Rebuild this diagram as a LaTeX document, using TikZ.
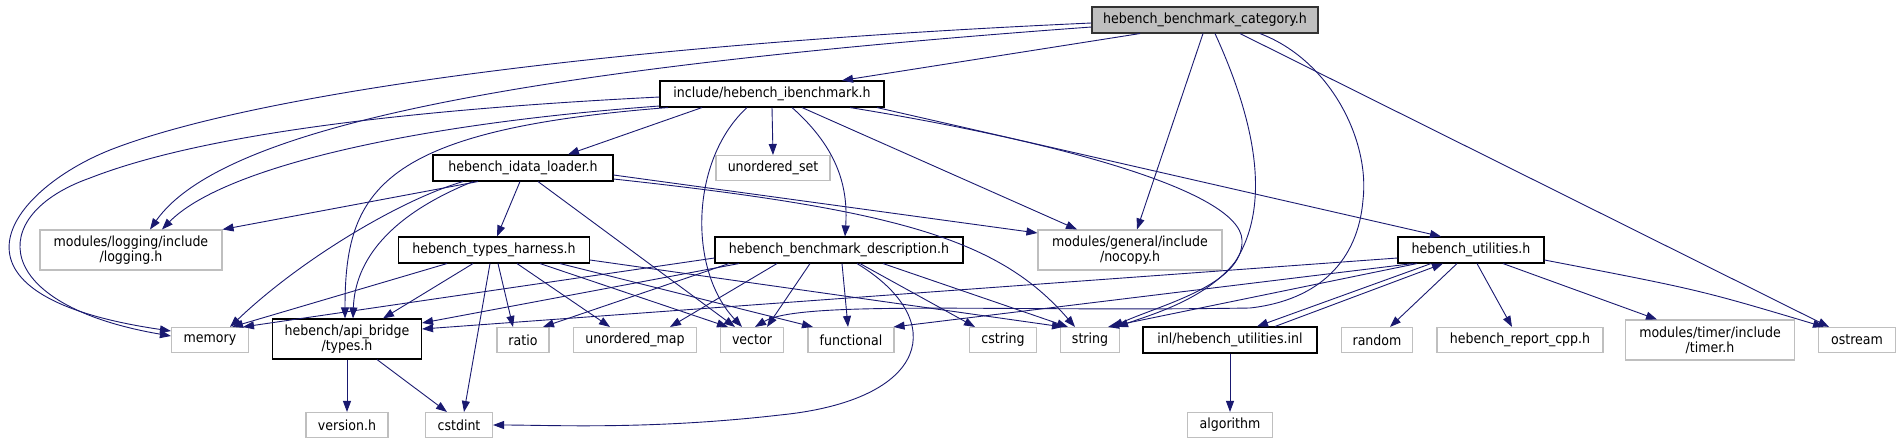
\documentclass[tikz,border=0pt]{standalone}
\usepackage{fontspec}
\setmainfont{DejaVu Sans Condensed}
\usetikzlibrary{arrows.meta}
\definecolor{navy}{HTML}{191970}
\definecolor{grey75}{HTML}{BFBFBF}

\begin{document}
\begin{tikzpicture}[x=1pt,y=-1pt,font=\fontsize{14}{15}\selectfont,
file/.style={draw=black,line width=1.1pt,fill=white,inner sep=0pt,minimum height=26pt,align=center},
sys/.style={file,draw=grey75},
two/.style={minimum height=40pt},
root/.style={file,fill=grey75,draw=black!80},
dep/.style={-{Triangle[length=11pt,width=8pt]},navy,line width=0.9pt}]
\useasboundingbox (0,0) rectangle (1900,440);
\node[root,minimum width=226pt] (cat) at (1205,20) {hebench\_benchmark\_category.h};
\node[file,minimum width=224pt] (ibm) at (772,94) {include/hebench\_ibenchmark.h};
\node[sys,minimum width=114pt,minimum height=25pt] (uset) at (773,168) {unordered\_set};
\node[file,minimum width=180pt] (idl) at (523,168) {hebench\_idata\_loader.h};
\node[sys,two,minimum width=182pt] (logging) at (131,250) {modules/logging/include\\/logging.h};
\node[file,minimum width=191pt] (harness) at (494,250) {hebench\_types\_harness.h};
\node[file,minimum width=248pt] (desc) at (839,250) {hebench\_benchmark\_description.h};
\node[sys,two,minimum width=184pt] (nocopy) at (1130,250) {modules/general/include\\/nocopy.h};
\node[file,minimum width=146pt] (util) at (1471,250) {hebench\_utilities.h};
\node[sys,minimum width=77pt,minimum height=25pt] (memory) at (210,340) {memory};
\node[file,two,minimum width=149pt] (api) at (347,339) {hebench/api\_bridge\\/types.h};
\node[sys,minimum width=52pt,minimum height=25pt] (ratio) at (523,340) {ratio};
\node[sys,minimum width=123pt,minimum height=25pt] (umap) at (635,340) {unordered\_map};
\node[sys,minimum width=63pt,minimum height=25pt] (vector) at (752,340) {vector};
\node[sys,minimum width=86pt,minimum height=25pt] (functional) at (851,340) {functional};
\node[sys,minimum width=67pt,minimum height=25pt] (cstring) at (1003,340) {cstring};
\node[sys,minimum width=59pt,minimum height=25pt] (string) at (1090,340) {string};
\node[file,minimum width=174pt] (inl) at (1230,340) {inl/hebench\_utilities.inl};
\node[sys,minimum width=71pt,minimum height=25pt] (random) at (1377,340) {random};
\node[sys,minimum width=166pt,minimum height=25pt] (report) at (1520,340) {hebench\_report\_cpp.h};
\node[sys,two,minimum width=169pt] (timer) at (1710,340) {modules/timer/include\\/timer.h};
\node[sys,minimum width=77pt,minimum height=25pt] (ostream) at (1857,340) {ostream};
\node[sys,minimum width=82pt,minimum height=25pt] (version) at (347,425) {version.h};
\node[sys,minimum width=67pt,minimum height=25pt] (cstdint) at (459,425) {cstdint};
\node[sys,minimum width=85pt,minimum height=25pt] (algorithm) at (1230,425) {algorithm};

\draw[dep] ([xshift=-65pt]cat.south) -- ([xshift=70pt]ibm.north);
\draw[dep] ([yshift=-3pt]cat.west) .. controls (600,45) and (250,95) .. (110,150) .. controls (10,190) and (-75,295) .. ([yshift=9pt]memory.west);
\draw[dep] ([yshift=-7pt]cat.west) .. controls (500,70) and (220,130) .. ([xshift=19pt]logging.north);
\draw[dep] ([xshift=-2pt]cat.south) -- ([xshift=7pt]nocopy.north);
\draw[dep] ([xshift=10pt]cat.south) .. controls (1250,110) and (1275,200) .. (1235,262) .. controls (1205,300) and (1150,315) .. ([xshift=27pt]string.north);
\draw[dep] ([xshift=55pt]cat.south) .. controls (1330,60) and (1370,140) .. (1363,200) .. controls (1358,260) and (1320,300) .. (1250,308) .. controls (1000,312) and (800,300) .. ([xshift=3pt]vector.north);
\draw[dep] ([xshift=35pt]cat.south) -- ([xshift=-28pt]ostream.north);

\draw[dep] ([yshift=-3pt]ibm.west) .. controls (400,110) and (200,135) .. (90,178) .. controls (-15,215) and (-10,305) .. ([yshift=4pt]memory.west);
\draw[dep] ([yshift=-12pt]ibm.west) .. controls (400,125) and (220,170) .. ([xshift=31pt]logging.north);
\draw[dep] ([xshift=-70pt]ibm.south) -- ([xshift=45pt]idl.north);
\draw[dep] ([xshift=-104pt]ibm.south) .. controls (380,130) and (345,190) .. ([xshift=-2pt]api.north);
\draw[dep] (ibm.south) -- (uset.north);
\draw[dep] ([xshift=-25pt]ibm.south) .. controls (690,160) and (688,270) .. ([xshift=-10pt]vector.north);
\draw[dep] ([xshift=20pt]ibm.south) .. controls (840,150) and (848,190) .. ([xshift=6pt]desc.north);
\draw[dep] ([xshift=30pt]ibm.south) -- ([xshift=-53pt]nocopy.north);
\draw[dep] ([xshift=78pt]ibm.south) .. controls (1050,140) and (1240,190) .. (1242,240) .. controls (1244,285) and (1160,305) .. ([xshift=22pt]string.north);
\draw[dep] ([xshift=105pt]ibm.south) -- ([xshift=-30pt]util.north);

\draw[dep] ([xshift=-45pt]idl.south) -- (logging.north east);
\draw[dep] ([xshift=-60pt]idl.south) .. controls (400,200) and (300,260) .. ([xshift=20pt]memory.north);
\draw[dep] ([xshift=-50pt]idl.south) .. controls (390,215) and (355,260) .. ([xshift=6pt]api.north);
\draw[dep] ([xshift=-3pt]idl.south) -- ([xshift=3pt]harness.north);
\draw[dep] ([xshift=15pt]idl.south) -- ([xshift=-17pt]vector.north);
\draw[dep] ([yshift=-7pt]idl.east) -- ([yshift=17pt]nocopy.west);
\draw[dep] ([yshift=-11pt]idl.east) .. controls (900,210) and (1000,240) .. ([xshift=-15pt]string.north);

\draw[dep] ([xshift=-47pt]harness.south) -- ([xshift=22pt]memory.north);
\draw[dep] ([xshift=-21pt]harness.south) -- ([xshift=36pt]api.north);
\draw[dep] ([xshift=-4pt]harness.south) -- ([xshift=5pt]cstdint.north);
\draw[dep] ([xshift=4pt]harness.south) -- ([xshift=-10pt]ratio.north);
\draw[dep] ([xshift=23pt]harness.south) -- ([xshift=-25pt]umap.north);
\draw[dep] ([xshift=46pt]harness.south) -- ([xshift=-24pt]vector.north);
\draw[dep] ([xshift=66pt]harness.south) -- ([xshift=-38pt]functional.north);
\draw[dep] ([yshift=-10pt]harness.east) -- ([xshift=-27pt]string.north);

\draw[dep] ([yshift=-8pt]desc.west) -- ([xshift=33pt]memory.north);
\draw[dep] ([xshift=-100pt]desc.south) -- ([yshift=16pt]api.east);
\draw[dep] ([xshift=-110pt]desc.south) -- ([xshift=20pt]ratio.north);
\draw[dep] ([xshift=-62pt]desc.south) -- ([xshift=35pt]umap.north);
\draw[dep] ([xshift=-29pt]desc.south) -- ([xshift=15pt]vector.north);
\draw[dep] ([xshift=3pt]desc.south) -- ([xshift=-3pt]functional.north);
\draw[dep] ([xshift=21pt]desc.south) -- ([xshift=-28pt]cstring.north);
\draw[dep] ([xshift=44pt]desc.south) -- ([xshift=-22pt]string.north);
\draw[dep] ([xshift=18pt]desc.south) .. controls (950,320) and (930,400) .. (780,415) .. controls (650,430) and (550,425) .. (cstdint.east);

\draw[dep] ([xshift=-40pt]util.south) -- ([xshift=27pt]inl.north);
\draw[dep] ([xshift=45pt]inl.north) -- ([xshift=-28pt]util.south);
\draw[dep] ([xshift=-14pt]util.south) -- ([xshift=13pt]random.north);
\draw[dep] ([xshift=6pt]util.south) -- ([xshift=-8pt]report.north);
\draw[dep] ([xshift=32pt]util.south) -- ([xshift=-53pt]timer.north);
\draw[dep] ([yshift=-10pt]util.east) .. controls (1700,290) .. ([xshift=-33pt]ostream.north);
\draw[dep] ([yshift=-8pt]util.west) -- ([yshift=10pt]api.east);
\draw[dep] ([xshift=-58pt]util.south) -- ([xshift=-1pt]functional.north east);
\draw[dep] ([xshift=-54pt]util.south) -- ([xshift=18pt]string.north);

\draw[dep] (api.south) -- (version.north);
\draw[dep] ([xshift=30pt]api.south) -- ([xshift=-12pt]cstdint.north);
\draw[dep] (inl.south) -- (algorithm.north);
\end{tikzpicture}
\end{document}
